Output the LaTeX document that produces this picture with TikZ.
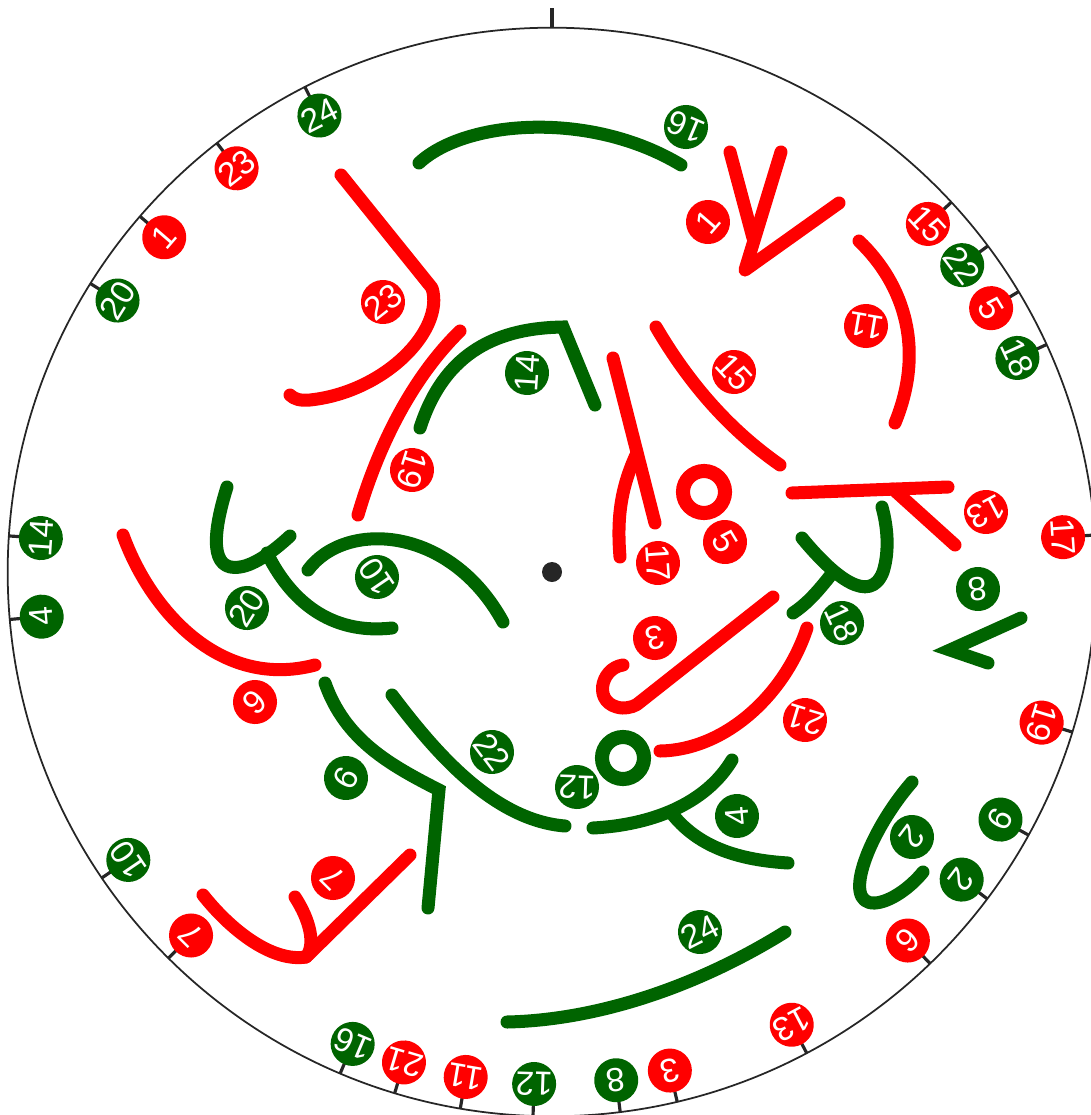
\documentclass[tikz,border=0pt]{standalone}
\usepackage{fontspec}
\setsansfont{Liberation Sans}
\usetikzlibrary{calc}
\definecolor{knotred}{RGB}{255,0,0}
\definecolor{knotgreen}{RGB}{0,100,0}
\tikzset{
  rim/.style={line width=0.5pt, draw=black!85},
  tickmark/.style={line width=0.9pt, draw=black!85},
  strand/.style={line width=3.7pt, draw=#1, line cap=round, line join=round},
  ring/.style={line width=4pt, draw=#1},
  badge/.style={circle, fill=#1, text=white, inner sep=0pt, minimum size=0.44cm,
    font=\sffamily\fontsize{9.5}{11}\selectfont},
}
\begin{document}
\begin{tikzpicture}[x=0.01cm, y=-0.01cm]
    \useasboundingbox (0,0) rectangle (1090,1115);
    \coordinate (ctr) at (552,572);
    % rim, top marker and centre
    \draw[rim] (ctr) circle[radius=5.44cm];
    \coordinate (top) at (552,28);
    \coordinate (topend) at (552,8);
    \draw[tickmark] (top) -- (topend);
    \fill[black!85] (ctr) circle[radius=0.1cm];
    % red strands
    \draw[strand=knotred] (341,175) -- (432,288) .. controls (445,330) and (385,392) .. (310,400)
        .. controls (300,401) and (294,399) .. (290,395);
    \draw[strand=knotred] (460,331) .. controls (415,375) and (380,440) .. (358,515);
    \draw[strand=knotred] (730,152) -- (753,238);
    \draw[strand=knotred] (781,152) -- (745,270) -- (839,203);
    \draw[strand=knotred] (859,241) .. controls (905,285) and (925,350) .. (895,423);
    \draw[strand=knotred] (656,327) .. controls (690,385) and (730,430) .. (780,465);
    \draw[strand=knotred] (613,358) -- (655,523);
    \draw[strand=knotred] (636,455) .. controls (620,490) and (617,520) .. (620,557);
    \draw[ring=knotred] (704,492) circle[radius=0.21cm];
    \draw[strand=knotred] (792,493) -- (948,487);
    \draw[strand=knotred] (893,489) -- (955,545);
    \draw[strand=knotred] (623,665) .. controls (600,668) and (592,705) .. (622,708)
        .. controls (630,708) and (636,706) .. (640,702) -- (773,597);
    \draw[strand=knotred] (807,628) .. controls (785,695) and (725,750) .. (660,751);
    \draw[strand=knotred] (123,535) .. controls (150,610) and (220,690) .. (315,665);
    \draw[strand=knotred] (203,895) .. controls (235,935) and (275,962) .. (306,957) -- (410,855);
    \draw[strand=knotred] (295,897) .. controls (310,920) and (316,945) .. (306,957);
    % green strands
    \draw[strand=knotgreen] (419,163) .. controls (465,120) and (590,110) .. (681,165);
    \draw[strand=knotgreen, line join=miter] (420,428) .. controls (445,350) and (500,328) .. (563,327) -- (595,405);
    \draw[strand=knotgreen] (227,487) .. controls (212,535) and (210,572) .. (240,567)
        .. controls (255,565) and (275,550) .. (290,536);
    \draw[strand=knotgreen] (267,553) .. controls (290,600) and (330,635) .. (392,628);
    \draw[strand=knotgreen] (308,570) .. controls (345,520) and (450,525) .. (503,622);
    \draw[strand=knotgreen, line join=miter] (325,683) .. controls (345,740) and (390,765) .. (439,790) -- (428,908);
    \draw[strand=knotgreen] (392,695) .. controls (430,745) and (490,820) .. (565,826);
    \draw[ring=knotgreen] (623,758) circle[radius=0.21cm];
    \draw[strand=knotgreen] (593,828) .. controls (650,825) and (705,805) .. (732,760);
    \draw[strand=knotgreen] (673,815) .. controls (700,848) and (740,860) .. (788,863);
    \draw[strand=knotgreen] (912,782) .. controls (870,830) and (840,905) .. (875,903)
        .. controls (890,902) and (910,888) .. (923,872);
    \draw[strand=knotgreen] (507,1022) .. controls (600,1020) and (700,985) .. (785,932);
    \draw[strand=knotgreen] (802,538) .. controls (835,578) and (870,605) .. (883,572)
        .. controls (890,550) and (887,525) .. (882,507);
    \draw[strand=knotgreen] (830,576) .. controls (815,595) and (805,605) .. (793,613);
    \draw[strand=knotgreen, line join=miter] (1021,618) -- (950,650) -- (988,663);
    % labels on the rim
    \foreach \n/\a/\c in {24/117/knotgreen, 23/128/knotred, 1/139.2/knotred, 20/148/knotgreen,
        14/176.2/knotgreen, 4/185/knotgreen, 10/214.2/knotgreen, 7/225.2/knotred,
        16/247.1/knotgreen, 21/253.2/knotred, 11/260.3/knotred, 12/268/knotgreen,
        8/277.2/knotgreen, 3/283.3/knotred, 13/297.9/knotred, 6/314/knotred,
        2/323.1/knotgreen, 9/331.1/knotgreen, 19/342.9/knotred, 17/3.9/knotred,
        18/24.7/knotgreen, 5/31/knotred, 22/36.8/knotgreen, 15/42.8/knotred} {
        \draw[tickmark] ($(ctr)+(\a:5.44cm)$) -- ($(ctr)+(\a:5.32cm)$);
        \node[badge=\c, rotate=\a-90] (out\n) at ($(ctr)+(\a:5.12cm)$) {\n};
    }
    % labels inside
    \foreach \n/\x/\y/\a/\c in {16/686/127/247.1/knotgreen, 1/708/222/139.2/knotred,
        11/866/326/260.3/knotred, 15/734/372/42.8/knotred, 23/383/302/128/knotred,
        14/527/373/176.2/knotgreen, 19/412/470/342.9/knotred, 10/377/577/214.2/knotgreen,
        20/247/608/148/knotgreen, 6/255/702/314/knotred, 9/346/778/331.1/knotgreen,
        22/492/752/36.8/knotgreen, 7/333/878/225.2/knotred, 5/725/542/31/knotred,
        17/658/563/3.9/knotred, 13/986/512/297.9/knotred, 8/978/589/277.2/knotgreen,
        18/842/623/24.7/knotgreen, 3/655/638/283.3/knotred, 21/805/720/253.2/knotred,
        12/577/787/268/knotgreen, 4/737/816/185/knotgreen, 2/912/837/323.1/knotgreen,
        24/700/932/117/knotgreen} {
        \node[badge=\c, rotate=\a-90] (in\n) at (\x,\y) {\n};
    }
\end{tikzpicture}
\end{document}
